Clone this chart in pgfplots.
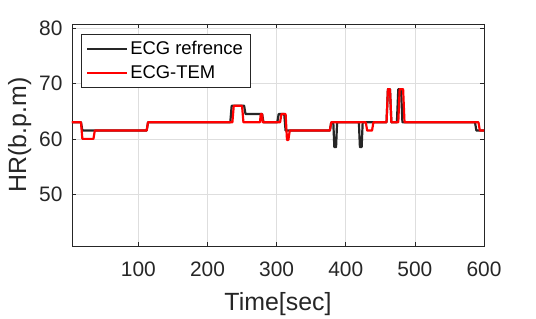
\documentclass[border=0pt]{standalone}
\usepackage{fontspec}
\setmainfont{Liberation Sans}
\usepackage{pgfplots}
\pgfplotsset{compat=1.18}
\definecolor{mgray}{rgb}{0.15,0.15,0.15}
\definecolor{gridc}{rgb}{0.87,0.87,0.87}
\begin{document}
\begin{tikzpicture}
\begin{axis}[
  scale only axis,
  width=412bp, height=222bp,
  xmin=4, xmax=600, ymin=40.6, ymax=80.8,
  xtick={100,200,300,400,500,600},
  ytick={50,60,70,80},
  grid=major,
  major grid style={gridc, line width=0.5pt},
  axis line style={mgray, line width=0.6pt},
  tick style={mgray, line width=0.6pt},
  tick align=inside,
  major tick length=4bp,
  /pgf/number format/assume math mode=true,
  ticklabel style={font=\fontsize{21}{24}\selectfont, text=mgray},
  xticklabel style={yshift=-12bp},
  yticklabel style={xshift=-6bp},
  xlabel={Time[sec]},
  ylabel={HR(b.p.m)},
  label style={font=\fontsize{25}{28}\selectfont, text=mgray},
  xlabel style={yshift=-9bp},
  ylabel style={yshift=1bp},
  legend cell align=left,
  legend style={at={(0,1)}, anchor=north west, xshift=9bp, yshift=-10bp,
    font=\fontsize{18.5}{20}\selectfont, draw=mgray, line width=0.6pt,
    inner xsep=5bp, inner ysep=5bp, row sep=6bp},
  legend image code/.code={\draw[#1, line width=2pt] (0bp,0bp) -- (40bp,0bp);},
]
\addplot[color=mgray, line width=2.2pt, line join=round] coordinates {
(4,63) (17,63) (19,61.5) (112,61.5) (114,63) (233,63) (235,66) (253,66) (255,64.5)
(279,64.5) (281,63) (301,63) (303,64.5) (311,64.5) (313,61.5) (377,61.5) (379,63)
(382,63) (383.5,58.5) (386,58.5) (387.5,63) (419,63) (420.5,58.5) (423,58.5) (424.5,63)
(459,63) (461,69) (464,69) (466,63) (474,63) (476,69) (480,69) (482,63) (587,63)
(589,61.5) (600,61.5)
};
\addlegendentry{ECG refrence}
\addplot[color=red, line width=2.2pt, line join=round] coordinates {
(4,63) (17,63) (19,60) (35,60) (37,61.5) (112,61.5) (114,63) (236,63) (238,66)
(250,66) (252,63) (276,63) (277,64.5) (279,64.5) (280,63) (305,63) (307,64.5)
(313,64.5) (315,59.8) (317,59.8) (319,61.5) (377,61.5) (379,63) (429,63) (431,61.5)
(438,61.5) (440,63) (459,63) (461,69) (464,69) (466,63) (476,63) (478,69) (483,69)
(485,63) (592,63) (594,61.5) (600,61.5)
};
\addlegendentry{ECG-TEM}
\end{axis}
\path (current axis.south west) ++(-72bp,-73bp) rectangle ++(536bp,319bp);
\end{tikzpicture}
\end{document}
